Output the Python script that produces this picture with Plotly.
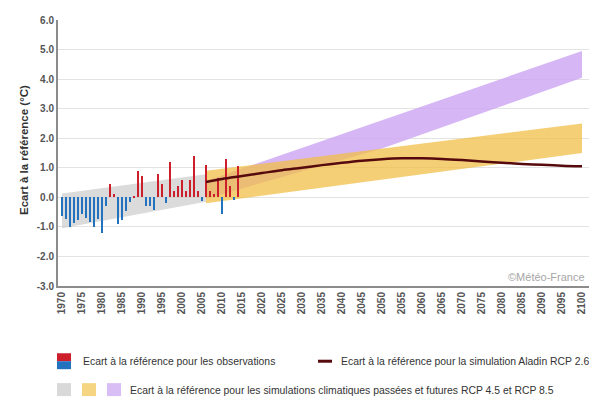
import plotly.graph_objects as go

# ---------------- data ----------------
obs_years = list(range(1970, 2015))
obs_values = [-0.62, -0.73, -1.00, -0.88, -0.77, -0.57, -0.69, -0.84, -1.02, -0.73,
              -1.20, -0.30, 0.44, 0.12, -0.90, -0.77, -0.46, -0.17, 0.03, 0.90,
              0.73, -0.30, -0.30, -0.42, 0.80, 0.44, -0.20, 1.20, 0.20, 0.37,
              0.60, 0.20, 0.60, 1.40, 0.20, -0.12, 1.10, 0.20, 0.12, 0.65,
              -0.55, 1.30, 0.40, -0.10, 1.05]

past_years = [1970, 2006]
past_top = [0.13, 0.78]
past_bottom = [-1.05, -0.15]

rcp45_years = [2006, 2100]
rcp45_top = [0.90, 2.50]
rcp45_bottom = [-0.20, 1.50]

rcp85_years = [2006, 2050, 2100]
rcp85_top = [0.55, 2.60, 4.95]
rcp85_bottom = [-0.05, 1.65, 4.05]

aladin_years = [2006, 2010, 2015, 2020, 2025, 2030, 2035, 2040, 2045, 2050, 2055,
                2060, 2065, 2070, 2075, 2080, 2085, 2090, 2095, 2100]
aladin_values = [0.52, 0.62, 0.72, 0.82, 0.92, 1.00, 1.09, 1.17, 1.24, 1.29, 1.32,
                 1.32, 1.30, 1.26, 1.21, 1.17, 1.13, 1.10, 1.07, 1.05]

x_ticks = list(range(1970, 2101, 5))
y_ticks = [-3, -2, -1, 0, 1, 2, 3, 4, 5, 6]
y_tick_labels = ["-3.0", "-2.0", "-1.0", "0.0", "1.0", "2.0", "3.0", "4.0", "5.0", "6.0"]

y_title = "Ecart à la référence (°C)"
legend_obs = "Ecart à la référence pour les observations"
legend_aladin = "Ecart à la référence pour la simulation Aladin RCP 2.6"
legend_sims = "Ecart à la référence pour les simulations climatiques passées et futures RCP 4.5 et RCP 8.5"
credit = "©Météo-France"

# ---------------- style ----------------
RED = "#cc1f2b"
BLUE = "#2372bf"
LINE = "#560a0d"
GRAY_FILL = "rgba(200,200,200,0.65)"
ORANGE_FILL = "rgba(242,190,70,0.74)"
PURPLE_FILL = "rgba(204,164,242,0.8)"

W, H = 589, 398
L, R, T, B = 58, 0, 19.5, 111.5
plot_w = W - L - R
plot_h = H - T - B
X_RANGE = [1969, 1969 + plot_w / 4.0]
Y_RANGE = [-3, 6]


def px(x):
    return (x - L) / plot_w


def py(y):
    return (H - B - y) / plot_h


def band(years, top, bottom, color):
    return go.Scatter(x=years + years[::-1], y=top + bottom[::-1], fill="toself",
                      fillcolor=color, line=dict(width=0), mode="lines",
                      hoverinfo="skip", showlegend=False)


fig = go.Figure()
fig.add_trace(band(past_years, past_top, past_bottom, GRAY_FILL))
fig.add_trace(band(rcp85_years, rcp85_top, rcp85_bottom, PURPLE_FILL))
fig.add_trace(band(rcp45_years, rcp45_top, rcp45_bottom, ORANGE_FILL))
fig.add_trace(go.Bar(x=obs_years, y=obs_values, width=0.6, xaxis="x2", yaxis="y2",
                     marker=dict(color=[RED if v >= 0 else BLUE for v in obs_values], line=dict(width=0)),
                     showlegend=False))
fig.add_trace(go.Scatter(x=aladin_years, y=aladin_values, mode="lines", xaxis="x2", yaxis="y2",
                         line=dict(color=LINE, width=2.5, shape="spline"), showlegend=False))

tickfont = dict(family="Liberation Sans, Arial, sans-serif", size=10, color="#555555", weight="bold")

fig.update_layout(
    xaxis=dict(range=X_RANGE, tickvals=x_ticks, tickangle=-90, tickfont=tickfont,
               showgrid=False, showline=True, linecolor="#8c8c8c", linewidth=2,
               ticks="", zeroline=False),
    yaxis=dict(range=Y_RANGE, tickvals=y_ticks, ticktext=y_tick_labels, tickfont=tickfont,
               showgrid=True, gridcolor="#e3e3e3", gridwidth=1, showline=True,
               linecolor="#8c8c8c", linewidth=2, ticks="", zeroline=False),
    xaxis2=dict(range=X_RANGE, overlaying="x", visible=False, showgrid=False, zeroline=False),
    yaxis2=dict(range=Y_RANGE, overlaying="y", visible=False, showgrid=False, zeroline=False),
)

legend_font = dict(family="Liberation Sans, Arial, sans-serif", size=10.4, color="#333333")

shapes = [
    dict(type="rect", xref="paper", yref="paper", x0=px(57), x1=px(71), y0=py(362), y1=py(354),
         fillcolor=RED, line=dict(width=0)),
    dict(type="rect", xref="paper", yref="paper", x0=px(57), x1=px(71), y0=py(370), y1=py(362),
         fillcolor=BLUE, line=dict(width=0)),
    dict(type="line", xref="paper", yref="paper", x0=px(318), x1=px(332), y0=py(362), y1=py(362),
         line=dict(color=LINE, width=3)),
    dict(type="rect", xref="paper", yref="paper", x0=px(57), x1=px(71), y0=py(397), y1=py(384),
         fillcolor="#d9d9d9", line=dict(width=0)),
    dict(type="rect", xref="paper", yref="paper", x0=px(82), x1=px(96), y0=py(397), y1=py(384),
         fillcolor="#f6d582", line=dict(width=0)),
    dict(type="rect", xref="paper", yref="paper", x0=px(107), x1=px(121), y0=py(397), y1=py(384),
         fillcolor="#d9bdf5", line=dict(width=0)),
]

annotations = [
    dict(text=y_title, xref="paper", yref="paper", x=px(24), y=py(150), textangle=-90,
         showarrow=False, xanchor="center", yanchor="middle",
         font=dict(family="Liberation Sans, Arial, sans-serif", size=11.5, color="#333333", weight="bold")),
    dict(text=legend_obs, xref="paper", yref="paper", x=px(81), y=py(362), showarrow=False,
         xanchor="left", yanchor="middle", font=legend_font),
    dict(text=legend_aladin, xref="paper", yref="paper", x=px(339), y=py(362), showarrow=False,
         xanchor="left", yanchor="middle", font=legend_font),
    dict(text=legend_sims, xref="paper", yref="paper", x=px(128), y=py(391), showarrow=False,
         xanchor="left", yanchor="middle", font=legend_font),
    dict(text=credit, xref="paper", yref="paper", x=px(587), y=py(277), showarrow=False,
         xanchor="right", yanchor="middle",
         font=dict(family="Liberation Sans, Arial, sans-serif", size=11, color="#a6a6a6")),
]

fig.update_layout(width=W, height=H, margin=dict(l=L, r=R, t=T, b=B, pad=0),
                  plot_bgcolor="white", paper_bgcolor="white", bargap=0,
                  shapes=shapes, annotations=annotations, showlegend=False)

fig.write_html("out.html", config={"displayModeBar": False},
               post_script="document.body.style.margin='0';")
